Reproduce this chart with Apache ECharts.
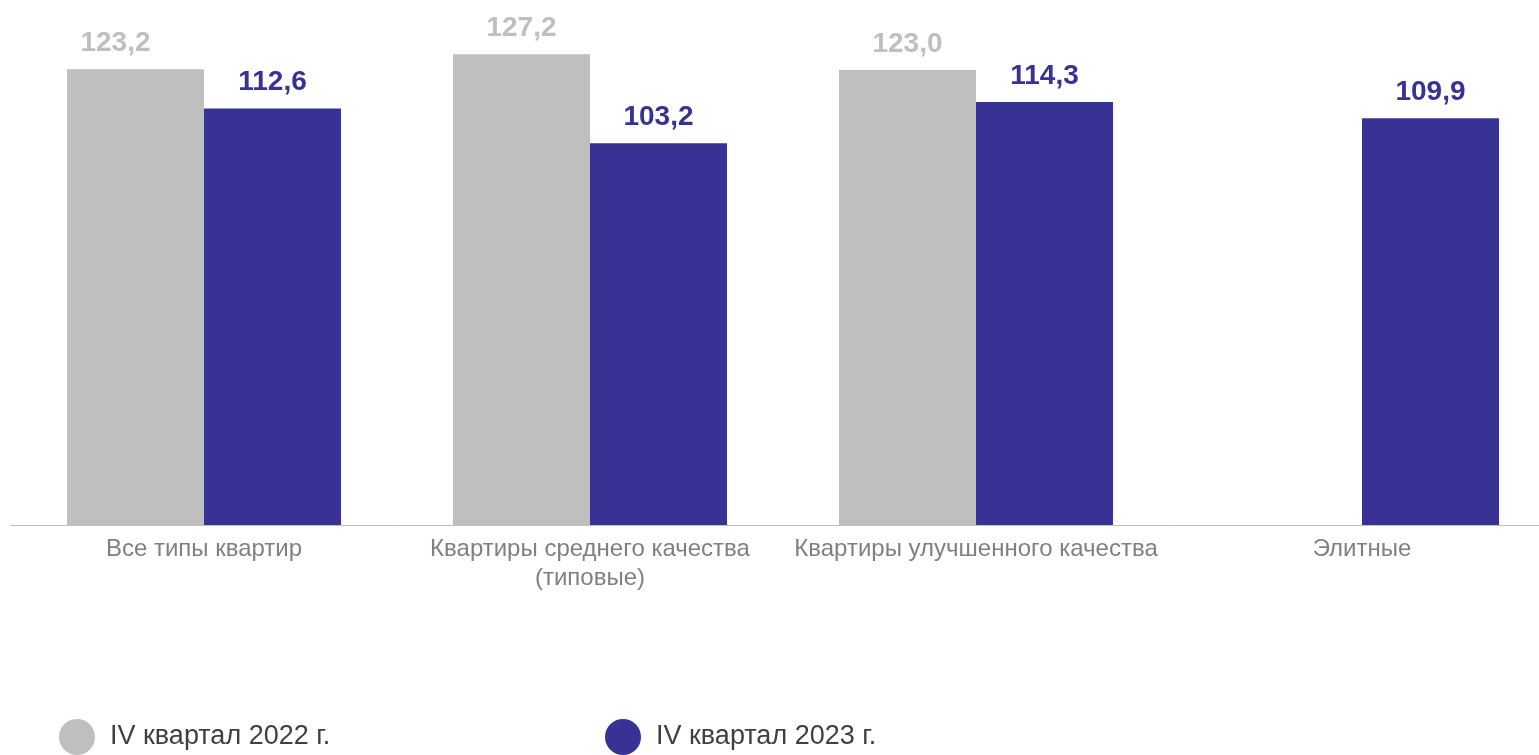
<!DOCTYPE html>
<html>
<head>
<meta charset="utf-8">
<script src="https://cdn.jsdelivr.net/npm/echarts@6/dist/echarts.min.js"></script>
<style>
  html, body { margin: 0; padding: 0; background: #fff; overflow: hidden; }
  #chart { width: 1555px; height: 755px; }
</style>
</head>
<body>
<div id="chart"></div>
<script>
const categories = [
  'Все типы квартир',
  'Квартиры среднего качества\n(типовые)',
  'Квартиры улучшенного качества',
  'Элитные'
]
const seriesNames = ['IV квартал 2022 г.', 'IV квартал 2023 г.']
const values2022 = [123.2, 127.2, 123.0, null]
const values2023 = [112.6, 103.2, 114.3, 109.9]

const GRAY = '#bfbfbf'
const BLUE = '#373294'
const FONT = 'Arial'

const fmt = (p) => p.value == null ? '' : p.value.toFixed(1).replace('.', ',')

function labelStyle(color) {
  return {
    show: true,
    position: 'top',
    distance: 12,
    color: color,
    fontFamily: FONT,
    fontSize: 28,
    fontWeight: 'bold',
    formatter: fmt
  }
}

const legendText = { color: '#404040', fontSize: 27, fontFamily: FONT, padding: [0, 0, 0, 10] }

const chart = echarts.init(document.getElementById('chart'))
chart.setOption({
  animation: false,
  textStyle: { fontFamily: FONT },
  grid: { left: 11, right: 0, top: 7, bottom: 230, containLabel: false },
  legend: [
    {
      data: [{ name: seriesNames[0], icon: 'circle' }],
      left: 59, top: 719, padding: 0,
      itemWidth: 36, itemHeight: 36, itemGap: 0,
      textStyle: legendText
    },
    {
      data: [{ name: seriesNames[1], icon: 'circle' }],
      left: 605, top: 719, padding: 0,
      itemWidth: 36, itemHeight: 36, itemGap: 0,
      textStyle: legendText
    }
  ],
  xAxis: {
    type: 'category',
    data: categories,
    axisLine: { lineStyle: { color: '#c0c0c0', width: 1 } },
    axisTick: { show: false },
    axisLabel: {
      color: '#808080',
      fontSize: 24,
      fontFamily: FONT,
      lineHeight: 29,
      margin: 10,
      interval: 0
    }
  },
  yAxis: {
    type: 'value',
    min: 0,
    max: 140,
    show: false
  },
  series: [
    {
      name: seriesNames[0],
      type: 'bar',
      barWidth: 137,
      barGap: '0%',
      itemStyle: { color: GRAY },
      label: labelStyle(GRAY),
      data: values2022.map((v, i) => i === 0
        ? { value: v, label: { offset: [-20, 0] } }
        : v)
    },
    {
      name: seriesNames[1],
      type: 'bar',
      barWidth: 137,
      barGap: '0%',
      itemStyle: { color: BLUE },
      label: labelStyle(BLUE),
      data: values2023
    }
  ]
})
</script>
</body>
</html>
